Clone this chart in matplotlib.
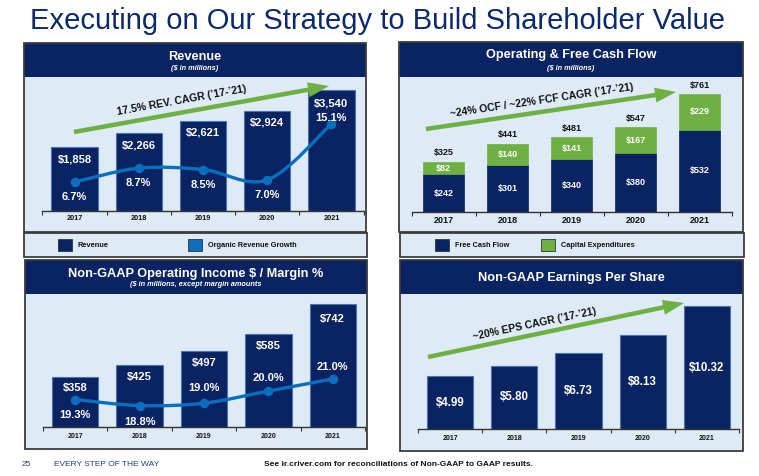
import matplotlib
matplotlib.use('Agg')
import matplotlib.pyplot as plt
from matplotlib.patches import Rectangle, FancyArrow, PathPatch
from matplotlib.path import Path
import numpy as np

plt.rcParams['font.family'] = ['Liberation Sans', 'DejaVu Sans']

# ---------------- data ----------------
years = ['2017', '2018', '2019', '2020', '2021']
revenue = [1858, 2266, 2621, 2924, 3540]
organic_growth = [6.7, 8.7, 8.5, 7.0, 15.1]
fcf = [242, 301, 340, 380, 532]
capex = [82, 140, 141, 167, 229]
ocf = [325, 441, 481, 547, 761]
op_income = [358, 425, 497, 585, 742]
op_margin = [19.3, 18.8, 19.0, 20.0, 21.0]
eps = [4.99, 5.80, 6.73, 8.13, 10.32]

# ---------------- style ----------------
W, H = 759, 476
NAVY = '#0a2362'
BG = '#DEEBF7'
GREEN = '#6FB043'
BLUE = '#0B6FC0'
FRAME = '#3c3c3c'
EDGE = '#4a74b4'

fig = plt.figure(figsize=(W / 100, H / 100), dpi=100)
fig.patch.set_facecolor('white')


def overlay(z):
    ax = fig.add_axes([0, 0, 1, 1], zorder=z)
    ax.set_xlim(0, W)
    ax.set_ylim(H, 0)
    ax.axis('off')
    ax.patch.set_alpha(0)
    return ax


bgx = overlay(0)
fgx = overlay(10)


def panel(x0, x1, yh, yb, ybot, title, subtitle, ty, sy):
    bgx.add_patch(Rectangle((x0, yb), x1 - x0, ybot - yb, facecolor=BG, edgecolor='none'))
    bgx.add_patch(Rectangle((x0, yh), x1 - x0, yb - yh, facecolor=NAVY, edgecolor='none'))
    bgx.add_patch(Rectangle((x0, yh), x1 - x0, ybot - yh, facecolor='none',
                            edgecolor=FRAME, lw=1.3))
    cx = (x0 + x1) / 2
    bgx.text(cx, ty, title, color='white', fontsize=9.2, fontweight='bold',
             ha='center', va='center')
    if subtitle:
        bgx.text(cx, sy, subtitle, color='white', fontsize=5.3, fontweight='bold',
                 style='italic', ha='center', va='center')


def legend_box(x0, x1, y0, y1, items):
    bgx.add_patch(Rectangle((x0, y0), x1 - x0, y1 - y0, facecolor=BG,
                            edgecolor=FRAME, lw=1.3))
    cy = (y0 + y1) / 2
    for sx, col, label in items:
        bgx.add_patch(Rectangle((sx, cy - 6.5), 13.5, 12.5, facecolor=col,
                                edgecolor='#333333', lw=0.6))
        bgx.text(sx + 20, cy + 0.5, label, fontsize=5.3, fontweight='bold',
                 color='#111111', ha='left', va='center')


def chart_axes(x0, x1, ytop, ybot, ylim, pad, fs):
    ax = fig.add_axes([x0 / W, 1 - ybot / H, (x1 - x0) / W, (ybot - ytop) / H], zorder=2)
    ax.patch.set_alpha(0)
    for s in ['top', 'right', 'left']:
        ax.spines[s].set_visible(False)
    ax.spines['bottom'].set_color('#333333')
    ax.spines['bottom'].set_linewidth(1.0)
    ax.set_xlim(-0.5, 4.5)
    ax.set_ylim(*ylim)
    ax.set_yticks([])
    ax.set_xticks(range(len(years)))
    ax.set_xticklabels(years, fontsize=fs, fontweight='bold', color='#111111')
    ax.set_xticks(np.arange(-0.5, len(years), 1.0), minor=True)
    ax.tick_params(axis='x', which='major', length=0, pad=pad)
    ax.tick_params(axis='x', which='minor', length=3, width=0.8, color='#333333',
                   direction='out')
    return ax


def twin(ax, ylim):
    t = ax.twinx()
    t.set_zorder(3)
    t.set_ylim(*ylim)
    t.set_yticks([])
    for s in t.spines.values():
        s.set_visible(False)
    return t


def smooth_path(xs, ys):
    verts = [(xs[0], ys[0])]
    codes = [Path.MOVETO]
    n = len(xs)
    for i in range(n - 1):
        p0 = (xs[i - 1], ys[i - 1]) if i > 0 else (xs[i], ys[i])
        p1 = (xs[i], ys[i])
        p2 = (xs[i + 1], ys[i + 1])
        p3 = (xs[i + 2], ys[i + 2]) if i + 2 < n else p2
        c1 = (p1[0] + (p2[0] - p0[0]) / 6, p1[1] + (p2[1] - p0[1]) / 6)
        c2 = (p2[0] - (p3[0] - p1[0]) / 6, p2[1] - (p3[1] - p1[1]) / 6)
        verts += [c1, c2, p2]
        codes += [Path.CURVE4] * 3
    return Path(verts, codes)


def draw_line(t, vals):
    x = np.arange(len(vals))
    t.add_patch(PathPatch(smooth_path(list(x), list(vals)), facecolor='none',
                          edgecolor=BLUE, lw=2.4, capstyle='round'))
    t.plot(x, vals, 'o', color=BLUE, ms=5.8, zorder=4)


def arrow(x0, y0, x1, y1, text, tx, ty):
    fgx.add_patch(FancyArrow(x0, y0, x1 - x0, y1 - y0, width=4.5, head_width=15,
                             head_length=21, length_includes_head=True,
                             color=GREEN, lw=0))
    ang = np.degrees(np.arctan2(y0 - y1, x1 - x0))
    fgx.text(tx, ty, text, rotation=ang, rotation_mode='anchor', ha='center',
             va='center', fontsize=7.5, fontweight='bold', color='#111111')


x = np.arange(len(years))

# ---------------- title ----------------
bgx.text(377.5, 29, 'Executing on Our Strategy to Build Shareholder Value',
         fontsize=21, color='#0b2a6b', ha='center', va='baseline')

# ---------------- Panel 1: Revenue ----------------
panel(24, 366, 43, 77, 232, 'Revenue', '($ in millions)', 57, 69)
ax1 = chart_axes(42.5, 363.5, 77, 211, (0, 3906), 3.2, 5.3)
ax1.bar(x, revenue, width=0.72, color=NAVY, edgecolor=EDGE, lw=0.8)
rev_off = [-12, -12, -11, -12, -14]
for i, v in enumerate(revenue):
    ax1.annotate(f'${v:,}', (i, v), xytext=(0, rev_off[i]), textcoords='offset pixels',
                 ha='center', va='center', color='white', fontsize=8, fontweight='bold')
t1 = twin(ax1, (2.5, 21.9))
draw_line(t1, organic_growth)
grow_off = [-15, -15, -15, -15, 6]
for i, v in enumerate(organic_growth):
    t1.annotate(f'{v:.1f}%', (i, v), xytext=(0, grow_off[i]), textcoords='offset pixels',
                ha='center', va='center', color='white', fontsize=8, fontweight='bold',
                zorder=5)
arrow(74, 132, 329, 86, '17.5% REV. CAGR (\u201917-\u201921)', 182, 100)
legend_box(24, 367, 233, 257, [(58, NAVY, 'Revenue'),
                               (188, BLUE, 'Organic Revenue Growth')])

# ---------------- Panel 2: Cash flow ----------------
panel(399, 743, 42, 77, 232, 'Operating & Free Cash Flow', '($ in millions)', 55, 68)
ax2 = chart_axes(411.5, 731.5, 77, 212, (0, 871), 3.0, 6.5)
ax2.bar(x, fcf, width=0.64, color=NAVY, edgecolor=NAVY, lw=0.5)
ax2.bar(x, capex, width=0.64, bottom=fcf, color=GREEN, edgecolor=GREEN, lw=0.5)
for i in range(len(years)):
    ax2.text(i, fcf[i] / 2, f'${fcf[i]}', ha='center', va='center', color='white',
             fontsize=6.5, fontweight='bold')
    ax2.text(i, fcf[i] + capex[i] / 2, f'${capex[i]}', ha='center', va='center',
             color='white', fontsize=6.5, fontweight='bold')
    ax2.annotate(f'${ocf[i]}', (i, fcf[i] + capex[i]), xytext=(0, 9),
                 textcoords='offset pixels', ha='center', va='center',
                 color='#111111', fontsize=6.5, fontweight='bold')
arrow(426, 129, 676, 92, '~24% OCF / ~22% FCF CAGR (\u201917-\u201921)', 542, 101)
legend_box(400, 744, 233, 257, [(435, NAVY, 'Free Cash Flow'),
                                (541, GREEN, 'Capital Expenditures')])

# ---------------- Panel 3: Operating income ----------------
panel(25, 367, 260, 294, 449, 'Non-GAAP Operating Income $ / Margin %',
      '($ in millions, except margin amounts', 274, 285)
ax3 = chart_axes(43, 365, 294, 427, (98, 794), 4.0, 5.0)
ax3.bar(x, op_income, width=0.72, color=NAVY, edgecolor=EDGE, lw=0.8)
oi_off = [-11, -12, -12, -12, -15]
for i, v in enumerate(op_income):
    ax3.annotate(f'${v}', (i, v), xytext=(0, oi_off[i]), textcoords='offset pixels',
                 ha='center', va='center', color='white', fontsize=8, fontweight='bold')
t3 = twin(ax3, (17.03, 28.02))
draw_line(t3, op_margin)
mar_off = [-15, -16, 15, 13, 12]
for i, v in enumerate(op_margin):
    t3.annotate(f'{v:.1f}%', (i, v), xytext=(0, mar_off[i]), textcoords='offset pixels',
                ha='center', va='center', color='white', fontsize=8, fontweight='bold',
                zorder=5)

# ---------------- Panel 4: EPS ----------------
panel(400, 743, 260, 294, 451, 'Non-GAAP Earnings Per Share', None, 278, None)
ax4 = chart_axes(418, 739, 294, 429, (0.98, 11.26), 4.0, 5.0)
ax4.bar(x, eps, width=0.72, color=NAVY, edgecolor=EDGE, lw=0.8)
lo = ax4.get_ylim()[0]
for i, v in enumerate(eps):
    ax4.text(i, (lo + v) / 2, f'${v:.2f}', ha='center', va='center', color='white',
             fontsize=8.3, fontweight='bold')
arrow(428, 357, 684, 303, '~20% EPS CAGR (\u201917-\u201921)', 535, 324)

# ---------------- footer ----------------
bgx.text(22, 465, '25', fontsize=6, color='#1f3f7a', ha='left', va='center')
bgx.text(54, 465, 'EVERY STEP OF THE WAY', fontsize=6, color='#1f3f7a',
         ha='left', va='center')
bgx.text(264, 465, 'See ir.criver.com for reconciliations of Non-GAAP to GAAP results.',
         fontsize=6, fontweight='bold', color='#111111', ha='left', va='center')

fig.savefig('out.png', dpi=100)
